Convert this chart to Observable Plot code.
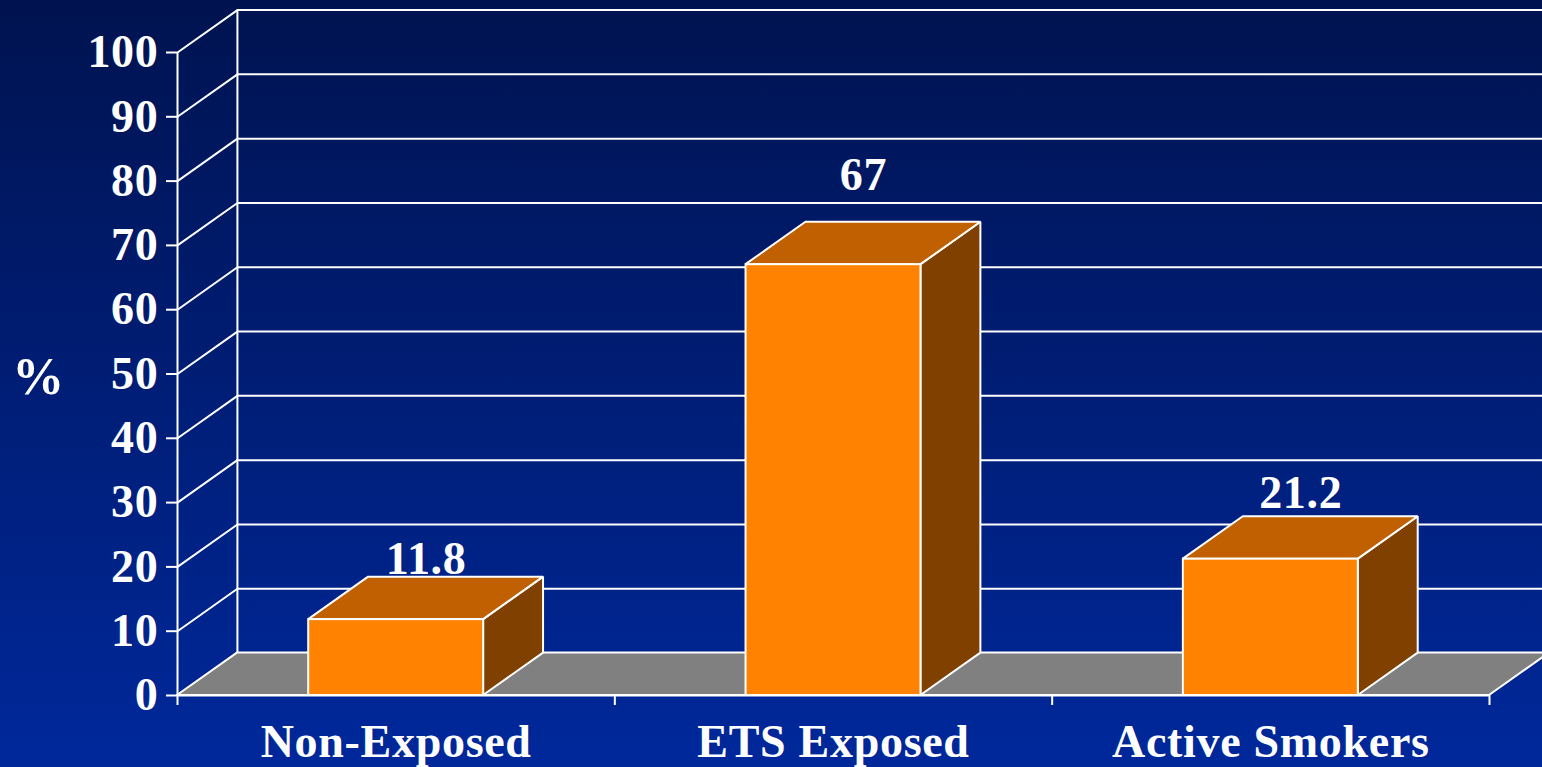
<!DOCTYPE html>
<html><head><meta charset="utf-8">
<script src="https://cdn.jsdelivr.net/npm/d3@7"></script>
<script src="https://cdn.jsdelivr.net/npm/@observablehq/plot@0.6"></script>
<style>
html,body{margin:0;padding:0;width:1542px;height:767px;overflow:hidden;background:linear-gradient(to bottom,#001350 0%,#00289b 100%);}
#chart svg{display:block;}
#chart svg text{font-family:"Liberation Serif","Times New Roman",serif;font-weight:bold;letter-spacing:0.7px;}
</style></head><body><div id="chart"></div>
<script>
const categories = ["Non-Exposed", "ETS Exposed", "Active Smokers"];
const values = [11.8, 67, 21.2];
const yTicks = [0, 10, 20, 30, 40, 50, 60, 70, 80, 90, 100];
const xBoundaries = [-0.5, 0.5, 1.5, 2.5];
const valueLabels = ["11.8", "67", "21.2"];

// 3D depth (in data units) and half bar width
const DX = 0.137, DY = 6.6, HALF = 0.2;
const FS = 46;

const bars = categories.map((c, i) => ({i, c, v: values[i], label: valueLabels[i]}));
const sideFaces = bars.flatMap(b => [
  {i: b.i, x: b.i + HALF, y1: 0, y2: b.v},
  {i: b.i, x: b.i + HALF + DX, y1: DY, y2: b.v + DY}
]);
const topFaces = bars.flatMap(b => [
  {i: b.i, y: b.v, x1: b.i - HALF, x2: b.i + HALF},
  {i: b.i, y: b.v + DY, x1: b.i - HALF + DX, x2: b.i + HALF + DX}
]);
const floorPts = [
  {y: 0, x1: xBoundaries[0], x2: xBoundaries[3]},
  {y: DY, x1: xBoundaries[0] + DX, x2: xBoundaries[3] + DX}
];

const W = "#ffffff";
const chart = Plot.plot({
  width: 1542,
  height: 767,
  marginLeft: 177,
  marginRight: 53,
  marginTop: 52,
  marginBottom: 72,
  style: {color: "white", background: "transparent", fontFamily: "Liberation Serif, serif"},
  x: {domain: [-0.5, 2.5]},
  y: {domain: [0, 100]},
  marks: [
    // back wall gridlines
    Plot.ruleY(yTicks, {y: d => d + DY, x1: xBoundaries[0] + DX, x2: xBoundaries[3] + DX + 0.2, stroke: W, strokeWidth: 2}),
    // back wall left edge
    Plot.ruleX([xBoundaries[0] + DX], {y1: DY, y2: 100 + DY, stroke: W, strokeWidth: 2}),
    // left wall diagonals
    Plot.link(yTicks, {x1: xBoundaries[0], y1: d => d, x2: xBoundaries[0] + DX, y2: d => d + DY, stroke: W, strokeWidth: 2}),
    // floor
    Plot.area(floorPts, {y1: "y", x1: "x1", x2: "x2", fill: "#808080", stroke: W, strokeWidth: 2}),
    // bars: side, top, front
    Plot.area(sideFaces, {x1: "x", y1: "y1", y2: "y2", z: "i", fill: "#804000", stroke: W, strokeWidth: 2, strokeLinejoin: "miter"}),
    Plot.area(topFaces, {y1: "y", x1: "x1", x2: "x2", z: "i", fill: "#c06000", stroke: W, strokeWidth: 2, strokeLinejoin: "miter"}),
    Plot.rect(bars, {x1: d => d.i - HALF, x2: d => d.i + HALF, y1: 0, y2: "v", fill: "#ff8200", stroke: W, strokeWidth: 2}),
    // axis lines
    Plot.ruleX([xBoundaries[0]], {y1: 0, y2: 100, stroke: W, strokeWidth: 2}),
    Plot.ruleY([0], {x1: xBoundaries[0], x2: xBoundaries[3], stroke: W, strokeWidth: 2}),
    Plot.axisY({ticks: yTicks, tickSize: 11, tickPadding: 8, fontSize: FS, fontWeight: "bold", label: null, stroke: W, strokeWidth: 2, fill: W}),
    Plot.axisX({ticks: xBoundaries, tickSize: 10, tickFormat: () => "", label: null, stroke: W, strokeWidth: 2}),
    Plot.axisX({ticks: [0, 1, 2], tickSize: 0, tickPadding: 29, tickFormat: i => categories[i], fontSize: FS, fontWeight: "bold", label: null, fill: W}),
    // value labels
    Plot.text(bars, {x: d => d.i + DX / 2, y: d => d.v * 1.081 + 8.5, text: "label", fontSize: FS, fontWeight: "bold", fill: W, lineAnchor: "middle"}),
    // y label
    Plot.text(["%"], {frameAnchor: "left", dx: -139, dy: 3, textAnchor: "middle", text: d => d, fontSize: 52, fontWeight: "bold", fill: W})
  ]
});
document.getElementById("chart").appendChild(chart);
</script></body></html>
